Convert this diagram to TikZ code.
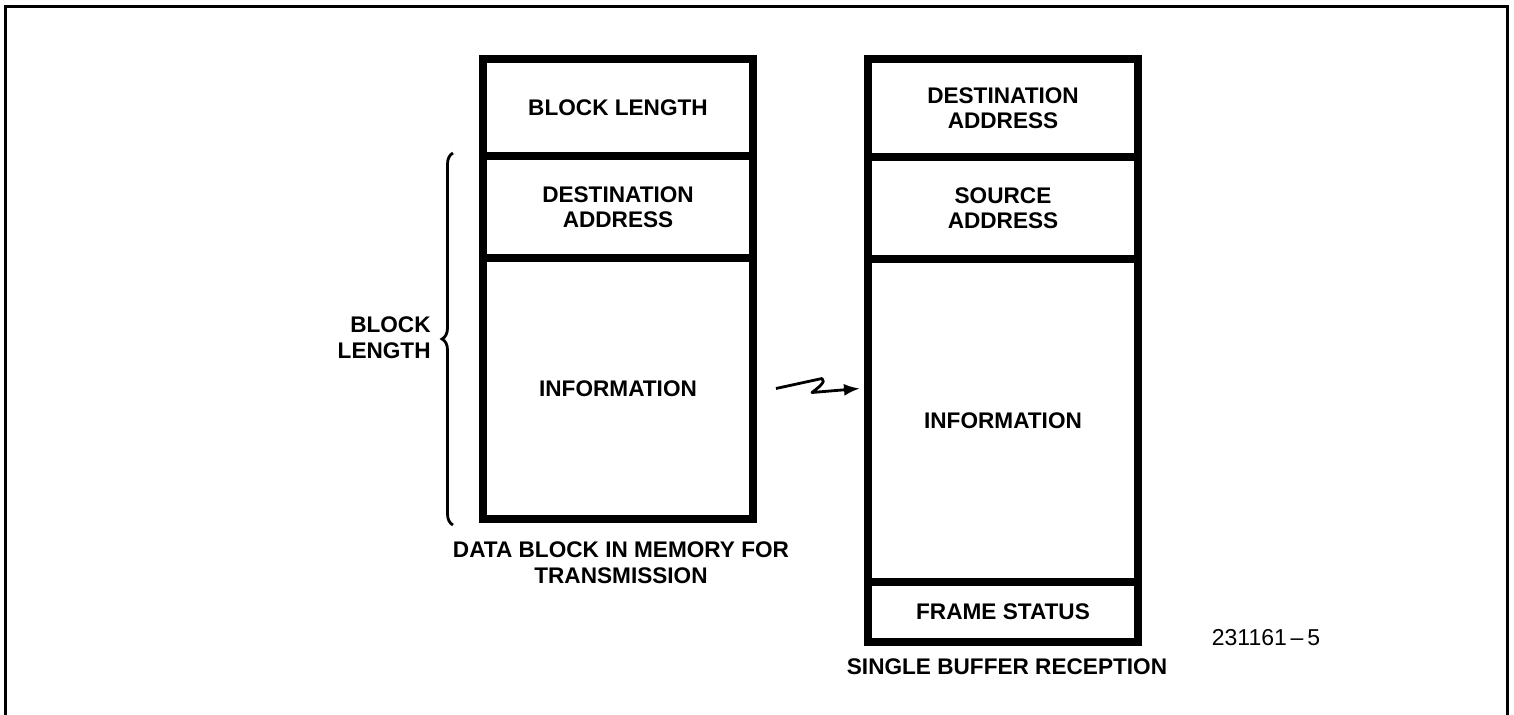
\documentclass[tikz,border=0pt]{standalone}
\usepackage{fontspec}
\setmainfont{Liberation Sans}
\usetikzlibrary{arrows.meta,decorations.pathreplacing}

\tikzset{
  field/.style={draw, line width=4pt, minimum width=135pt, inner sep=0pt,
    align=center, font=\fontsize{11.3}{12.5}\selectfont\bfseries},
  caption/.style={align=center, inner sep=0pt,
    font=\fontsize{11.3}{13}\selectfont\bfseries}
}

\begin{document}
\begin{tikzpicture}[x=0.5pt,y=-0.5pt]
        \useasboundingbox (0,0) rectangle (1514,715);

        % frame
        \draw[line width=1.5pt] (5.5,715) -- (5.5,6.5) -- (1507,6.5) -- (1507,715);

        % block in memory
        \node[field, minimum height=48.5pt] (lblen) at (618,107.5) {BLOCK LENGTH};
        \node[field, minimum height=51pt] (ldest) at (618,207) {DESTINATION\\ADDRESS};
        \node[field, minimum height=130.5pt] (linfo) at (618,388.5) {INFORMATION};
        \node[caption] (lcap) at (621,563) {DATA BLOCK IN MEMORY FOR\\TRANSMISSION};

        \draw[line width=1.4pt, decorate, decoration={brace, amplitude=5.5pt}]
            (453,525) -- (453,153);
        \node[caption, align=right, anchor=east] (blabel) at (431,338) {BLOCK\\LENGTH};

        % buffer at reception
        \node[field, minimum height=49pt] (rdest) at (1003,108) {DESTINATION\\ADDRESS};
        \node[field, minimum height=51pt] (rsrc) at (1003,208) {SOURCE\\ADDRESS};
        \node[field, minimum height=161.5pt] (rinfo) at (1003,420.5) {INFORMATION};
        \node[field, minimum height=30pt] (rstat) at (1003,612) {FRAME STATUS};
        \node[caption] (rcap) at (1007,667) {SINGLE BUFFER RECEPTION};

        % transmission
        \coordinate (zs) at ([xshift=9.5pt]linfo.east);
        \coordinate (ze) at ([xshift=-2pt]rinfo.west |- zs);
        \draw[line width=1.4pt, line join=round, -{Latex[length=8pt,width=6pt]}]
            (zs) -- ++(46,-10) .. controls +(5,3) and +(5,-4) .. ++(-10,14) -- (ze);

        \node[inner sep=0pt, font=\fontsize{11.5}{13}\selectfont] (fig) at (1266,638) {231161\,--\,5};

    \end{tikzpicture}
\end{document}
